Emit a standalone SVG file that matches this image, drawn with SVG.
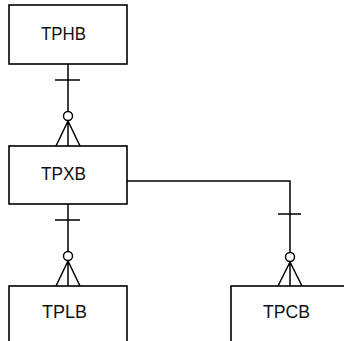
<svg xmlns="http://www.w3.org/2000/svg" width="344" height="341" viewBox="0 0 344 341">
  <style>
    .box { fill: #ffffff; stroke: #000000; stroke-width: 1.6; }
    .lbl { font-family: "Liberation Sans", Arial, sans-serif; font-size: 19px; fill: #111111; }
    .rel { fill: none; stroke: #000000; stroke-width: 1.5; }
    .opt { fill: #ffffff; stroke: #000000; stroke-width: 1.4; }
  </style>
  <rect width="344" height="341" fill="#ffffff"/>

  <!-- relationships: one-to-zero-or-many -->
  <g id="connectors">
    <!-- TPHB to TPXB -->
    <path class="rel" d="M68 64 V146 M55 80 H80 M68 121 L56 146 M68 121 L80 146"/>
    <circle class="opt" cx="68" cy="116" r="4.5"/>
    <!-- TPXB to TPLB -->
    <path class="rel" d="M68 204 V286 M55 220 H80 M68 261 L56 286 M68 261 L80 286"/>
    <circle class="opt" cx="68" cy="256" r="4.5"/>
    <!-- TPXB to TPCB -->
    <path class="rel" d="M127 181 H290 V286 M278 214 H301 M290 262 L278 286 M290 262 L302 286"/>
    <circle class="opt" cx="290" cy="257" r="4.5"/>
  </g>

  <g id="TPHB">
    <rect class="box" x="9" y="5" width="118" height="59"/>
    <text class="lbl" x="41" y="40" textLength="45" lengthAdjust="spacingAndGlyphs">TPHB</text>
  </g>
  <g id="TPXB">
    <rect class="box" x="9" y="146" width="118" height="58"/>
    <text class="lbl" x="41" y="180" textLength="45" lengthAdjust="spacingAndGlyphs">TPXB</text>
  </g>
  <g id="TPLB">
    <rect class="box" x="9" y="286" width="118" height="62"/>
    <text class="lbl" x="42" y="318" textLength="45" lengthAdjust="spacingAndGlyphs">TPLB</text>
  </g>
  <g id="TPCB">
    <rect class="box" x="231" y="286" width="118" height="62"/>
    <text class="lbl" x="263" y="318" textLength="47" lengthAdjust="spacingAndGlyphs">TPCB</text>
  </g>
</svg>
